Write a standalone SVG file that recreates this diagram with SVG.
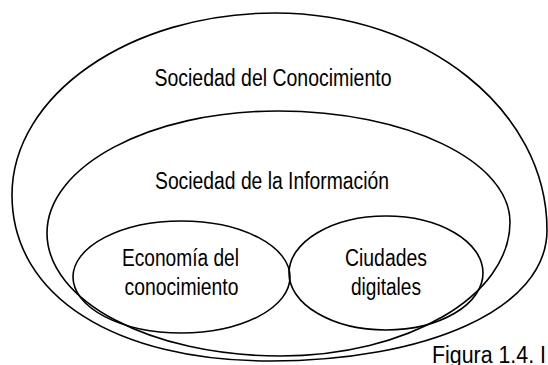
<svg xmlns="http://www.w3.org/2000/svg" width="548" height="365" viewBox="0 0 548 365">
<style>
.sh{fill:none;stroke:#000;stroke-width:1.6}
.t{font-family:"Liberation Sans",Arial,sans-serif;font-size:23px;fill:#000;text-anchor:middle}
.c{font-family:"Liberation Sans",Arial,sans-serif;font-size:23px;fill:#000}
</style>
<rect width="548" height="365" fill="#fff"/>
<g id="sociedad-conocimiento">
<path class="sh" d="M275,13 C425,13 547,110 547,230 C547,310 425,361 270,361 C115,361 12,296 12,195 C12,95 130,13 275,13 Z"/>
<text class="t" x="273" y="86" textLength="237" lengthAdjust="spacingAndGlyphs">Sociedad del Conocimiento</text>
</g>
<g id="sociedad-informacion">
<path class="sh" d="M278,111 C406,111 510,161 510,222 C510,296 407,356 280,356 C151,356 47,301 47,233 C47,166 150,111 278,111 Z"/>
<text class="t" x="272" y="189" textLength="234" lengthAdjust="spacingAndGlyphs">Sociedad de la Información</text>
</g>
<g id="economia">
<ellipse class="sh" cx="181.5" cy="277" rx="108.5" ry="56"/>
<text class="t" x="180.5" y="266" textLength="117" lengthAdjust="spacingAndGlyphs">Economía del</text>
<text class="t" x="181.5" y="295" textLength="114" lengthAdjust="spacingAndGlyphs">conocimiento</text>
</g>
<g id="ciudades">
<ellipse class="sh" cx="386" cy="273" rx="97" ry="57"/>
<text class="t" x="386" y="266" textLength="82" lengthAdjust="spacingAndGlyphs">Ciudades</text>
<text class="t" x="386" y="295" textLength="70" lengthAdjust="spacingAndGlyphs">digitales</text>
</g>
<g id="connectors"></g>
<text class="c" x="432" y="363" textLength="114" lengthAdjust="spacingAndGlyphs">Figura 1.4. I</text>
</svg>
